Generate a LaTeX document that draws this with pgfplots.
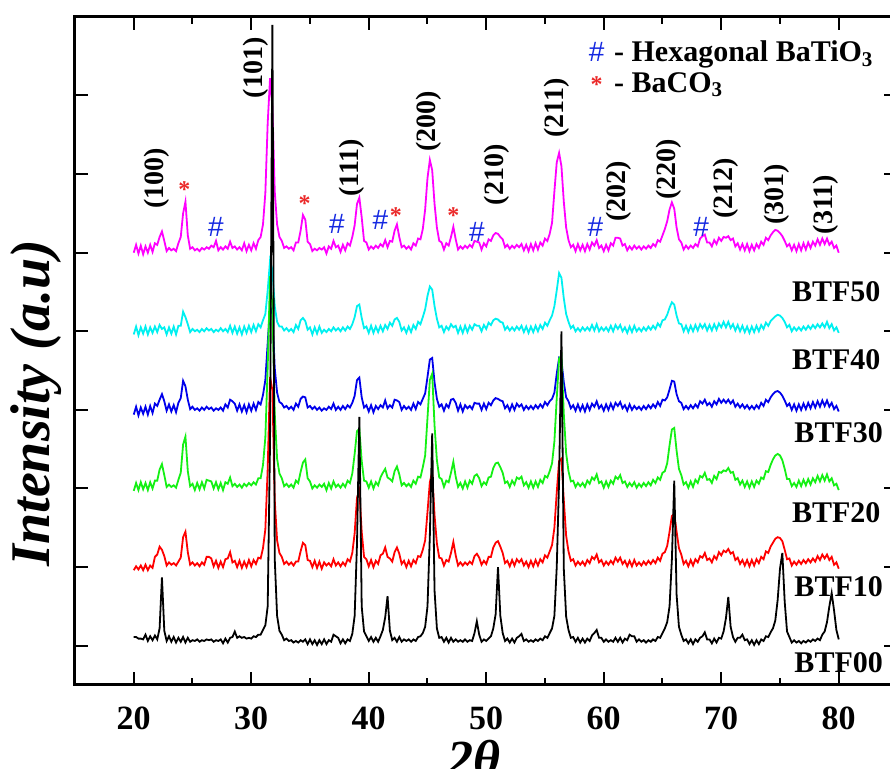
\documentclass[border=0pt]{standalone}
\usepackage{fontspec}
\setmainfont{Liberation Serif}
\newfontfamily\symfont{Liberation Sans}
\usepackage{pgfplots}
\usepackage{pgfplotstable}
\pgfplotsset{compat=1.18}

\definecolor{cMag}{RGB}{255,0,255}
\definecolor{cCyan}{RGB}{0,240,240}
\definecolor{cBlue}{RGB}{0,0,235}
\definecolor{cGreen}{RGB}{20,240,20}
\definecolor{cRed}{RGB}{255,0,0}
\definecolor{cAst}{RGB}{235,40,40}
\definecolor{cHash}{RGB}{20,40,225}

% 2theta, BTF00, BTF10, BTF20, BTF30, BTF40, BTF50 (stacked intensities)
\pgfplotstableread{
x k r g b c m
20.0 0.11 0.96 1.97 2.94 3.96 5.00
20.2 0.11 1.01 2.07 3.04 4.06 5.10
20.4 0.09 0.97 1.98 2.93 3.95 4.99
20.6 0.09 1.02 2.08 3.03 4.05 5.09
20.8 0.08 0.96 1.99 2.95 3.97 4.98
21.0 0.14 1.03 2.07 3.04 4.06 5.08
21.2 0.06 0.96 1.98 2.94 3.96 5.00
21.4 0.12 1.02 2.08 3.05 4.05 5.10
21.6 0.07 0.99 2.00 2.96 3.98 5.01
21.8 0.13 1.13 2.10 3.08 4.06 5.12
22.0 0.08 1.16 2.10 3.05 3.99 5.10
22.2 0.22 1.26 2.24 3.13 4.08 5.20
22.4 0.87 1.22 2.31 3.20 4.03 5.27
22.6 0.19 1.14 2.17 3.11 4.05 5.15
22.8 0.06 1.02 2.02 2.99 3.96 5.02
23.0 0.12 1.06 2.05 3.07 4.05 5.06
23.2 0.05 1.03 2.02 2.98 3.97 5.03
23.4 0.11 1.05 2.04 3.06 4.06 5.05
23.6 0.04 1.02 2.01 2.97 3.96 5.02
23.8 0.10 1.07 2.11 3.09 4.07 5.12
24.0 0.05 1.12 2.20 3.15 4.07 5.20
24.2 0.11 1.38 2.56 3.37 4.25 5.50
24.4 0.04 1.45 2.66 3.30 4.18 5.65
24.6 0.10 1.19 2.22 3.13 4.09 5.22
24.8 0.05 1.03 2.03 3.01 3.99 5.05
25.0 0.07 1.06 2.06 3.04 4.03 5.07
25.2 0.06 1.02 1.98 3.00 4.00 5.03
25.4 0.08 1.05 2.07 3.02 4.02 5.05
25.6 0.05 1.01 1.99 2.99 3.99 5.02
25.8 0.07 1.06 2.08 3.03 4.03 5.06
26.0 0.06 1.03 2.00 3.00 4.00 5.04
26.2 0.08 1.13 2.11 3.04 4.04 5.07
26.4 0.07 1.13 2.10 3.01 4.01 5.05
26.6 0.08 1.11 2.09 3.03 4.03 5.09
26.8 0.05 1.01 2.00 2.99 3.99 5.07
27.0 0.07 1.08 2.08 3.02 4.02 5.15
27.2 0.06 0.99 1.99 3.00 4.00 5.03
27.4 0.08 1.07 2.07 3.03 4.04 5.07
27.6 0.03 1.00 1.98 2.99 4.00 5.04
27.8 0.09 1.10 2.08 3.07 4.03 5.08
28.0 0.04 1.11 2.06 3.03 3.99 5.05
28.2 0.10 1.19 2.14 3.13 4.07 5.14
28.4 0.11 1.06 2.03 3.11 3.98 5.06
28.6 0.18 1.08 2.06 3.08 4.06 5.08
28.8 0.10 1.00 2.02 2.99 3.97 5.04
29.0 0.12 1.08 2.05 3.07 4.05 5.07
29.2 0.10 0.99 2.01 2.98 3.96 5.03
29.4 0.11 1.07 2.06 3.06 4.06 5.12
29.6 0.09 1.00 2.03 2.97 3.98 5.02
29.8 0.10 1.09 2.07 3.07 4.07 5.10
30.0 0.09 1.01 2.04 2.99 3.99 5.03
30.2 0.12 1.09 2.08 3.08 4.08 5.12
30.4 0.11 1.04 2.05 3.00 4.00 5.05
30.6 0.14 1.12 2.13 3.10 4.09 5.16
30.8 0.14 1.11 2.13 3.07 4.05 5.20
31.0 0.20 1.24 2.30 3.19 4.14 5.36
31.2 0.26 1.48 2.65 3.38 4.22 5.76
31.4 0.50 2.25 3.55 3.85 4.52 6.65
31.6 2.60 3.42 4.70 4.32 4.90 7.22
31.8 7.90 3.25 4.33 4.22 4.78 6.86
32.0 1.10 1.85 2.95 3.53 4.32 5.78
32.2 0.38 1.34 2.38 3.22 4.12 5.36
32.4 0.19 1.18 2.19 3.10 4.06 5.20
32.6 0.14 1.13 2.13 3.08 4.06 5.15
32.8 0.07 1.04 2.03 3.03 4.01 5.06
33.0 0.09 1.07 2.06 3.05 4.04 5.08
33.2 0.06 1.03 2.02 3.01 4.00 5.05
33.4 0.07 1.06 2.05 3.04 4.03 5.07
33.6 0.04 1.02 2.01 3.00 3.99 5.03
33.8 0.06 1.07 2.10 3.08 4.08 5.13
34.0 0.04 1.07 2.07 3.04 4.03 5.13
34.2 0.07 1.20 2.21 3.14 4.14 5.28
34.4 0.05 1.31 2.33 3.17 4.17 5.48
34.6 0.08 1.28 2.37 3.16 4.13 5.42
34.8 0.02 1.09 2.13 3.03 4.02 5.14
35.0 0.08 1.08 2.09 3.05 4.05 5.11
35.2 0.02 1.00 2.00 3.01 3.96 5.02
35.4 0.07 1.08 2.04 3.04 4.05 5.05
35.6 0.01 0.99 2.01 3.00 3.97 5.03
35.8 0.07 1.07 2.05 3.03 4.06 5.06
36.0 0.02 0.98 2.02 2.99 3.98 5.04
36.2 0.08 1.06 2.06 3.02 4.02 5.07
36.4 0.02 1.02 1.98 3.00 3.99 4.99
36.6 0.07 1.05 2.07 3.04 4.03 5.08
36.8 0.05 1.01 2.00 3.01 4.00 5.05
37.0 0.14 1.10 2.09 3.08 4.05 5.15
37.2 0.12 1.02 2.02 3.00 4.01 5.07
37.4 0.10 1.06 2.05 3.04 4.04 5.09
37.6 0.03 1.01 2.01 3.00 4.00 5.01
37.8 0.08 1.06 2.06 3.05 4.05 5.10
38.0 0.03 1.02 2.02 3.01 4.01 5.03
38.2 0.08 1.10 2.10 3.06 4.06 5.12
38.4 0.06 1.07 2.07 3.03 4.03 5.09
38.6 0.15 1.18 2.19 3.09 4.09 5.20
38.8 0.38 1.43 2.44 3.18 4.18 5.35
39.0 1.30 1.88 2.73 3.38 4.32 5.62
39.2 2.91 1.98 2.76 3.41 4.34 5.70
39.4 0.50 1.45 2.35 3.16 4.17 5.45
39.6 0.18 1.13 2.10 3.03 4.04 5.15
39.8 0.12 1.10 2.09 3.06 4.06 5.13
40.0 0.06 1.01 2.01 2.98 3.98 5.04
40.2 0.11 1.09 2.09 3.06 4.07 5.08
40.4 0.05 1.00 2.00 2.97 3.98 5.05
40.6 0.10 1.08 2.08 3.05 4.06 5.09
40.8 0.05 1.04 2.04 3.01 3.99 5.06
41.0 0.12 1.15 2.14 3.06 4.07 5.11
41.2 0.20 1.17 2.20 3.03 4.00 5.08
41.4 0.36 1.25 2.25 3.12 4.08 5.16
41.6 0.63 1.13 2.14 3.02 4.03 5.07
41.8 0.19 1.11 2.12 3.06 4.11 5.15
42.0 0.07 1.07 2.09 3.03 4.07 5.14
42.2 0.10 1.19 2.22 3.13 4.15 5.28
42.4 0.05 1.25 2.28 3.12 4.17 5.36
42.6 0.11 1.17 2.18 3.10 4.12 5.20
42.8 0.05 1.04 2.04 3.00 4.01 5.07
43.0 0.08 1.08 2.07 3.05 4.05 5.09
43.2 0.06 1.00 2.03 3.01 3.98 5.05
43.4 0.08 1.08 2.06 3.04 4.06 5.08
43.6 0.05 1.01 2.02 3.00 3.99 5.04
43.8 0.08 1.09 2.10 3.08 4.08 5.12
44.0 0.06 1.05 2.06 3.01 4.03 5.09
44.2 0.11 1.14 2.15 3.10 4.12 5.18
44.4 0.12 1.13 2.14 3.07 4.09 5.17
44.6 0.16 1.22 2.27 3.14 4.18 5.30
44.8 0.24 1.34 2.42 3.21 4.28 5.55
45.0 0.50 1.70 2.90 3.42 4.45 5.95
45.2 1.40 2.08 3.38 3.64 4.57 6.18
45.4 2.70 2.21 3.46 3.66 4.53 6.05
45.6 0.70 1.66 2.80 3.35 4.32 5.62
45.8 0.22 1.30 2.36 3.14 4.16 5.32
46.0 0.10 1.12 2.14 3.04 4.05 5.15
46.2 0.11 1.11 2.12 3.07 4.07 5.13
46.4 0.05 1.02 2.02 2.99 3.99 5.04
46.6 0.10 1.09 2.10 3.07 4.06 5.12
46.8 0.04 1.07 2.08 3.03 4.02 5.09
47.0 0.10 1.18 2.20 3.13 4.09 5.20
47.2 0.05 1.32 2.34 3.14 4.05 5.33
47.4 0.08 1.15 2.15 3.09 4.07 5.17
47.6 0.05 1.02 2.02 2.99 3.98 5.04
47.8 0.07 1.06 2.07 3.07 4.06 5.08
48.0 0.05 1.02 2.00 2.98 3.98 5.05
48.2 0.08 1.06 2.09 3.06 4.07 5.09
48.4 0.05 1.03 2.01 3.02 3.99 5.06
48.6 0.07 1.07 2.10 3.05 4.07 5.10
48.8 0.06 1.04 2.06 3.01 4.02 5.07
49.0 0.16 1.14 2.16 3.09 4.09 5.15
49.2 0.31 1.17 2.18 3.08 4.07 5.14
49.4 0.14 1.12 2.13 3.08 4.07 5.13
49.6 0.05 1.03 2.03 3.00 4.00 5.04
49.8 0.08 1.08 2.08 3.08 4.08 5.12
50.0 0.06 1.04 2.05 3.01 4.03 5.08
50.2 0.09 1.13 2.14 3.09 4.11 5.17
50.4 0.12 1.13 2.15 3.06 4.08 5.15
50.6 0.22 1.25 2.26 3.12 4.14 5.22
50.8 0.40 1.31 2.32 3.15 4.16 5.25
51.0 1.00 1.33 2.33 3.14 4.15 5.24
51.2 0.38 1.26 2.27 3.12 4.12 5.20
51.4 0.16 1.18 2.20 3.11 4.11 5.17
51.6 0.06 1.05 2.07 3.02 4.02 5.07
51.8 0.09 1.08 2.09 3.06 4.06 5.10
52.0 0.04 1.01 2.02 2.99 4.01 5.05
52.2 0.09 1.09 2.10 3.07 4.05 5.09
52.4 0.04 1.02 2.05 3.00 4.01 5.06
52.6 0.10 1.10 2.14 3.08 4.06 5.10
52.8 0.12 1.06 2.12 3.04 4.02 5.07
53.0 0.15 1.10 2.15 3.07 4.07 5.11
53.2 0.06 1.02 2.04 3.00 3.99 5.03
53.4 0.08 1.07 2.08 3.05 4.06 5.10
53.6 0.05 1.00 2.01 3.01 3.98 5.02
53.8 0.07 1.08 2.09 3.05 4.06 5.11
54.0 0.05 1.01 2.01 3.01 3.99 5.03
54.2 0.08 1.09 2.09 3.06 4.07 5.12
54.4 0.06 1.02 2.02 3.02 4.00 5.04
54.6 0.09 1.10 2.11 3.07 4.08 5.13
54.8 0.07 1.06 2.07 3.03 4.03 5.09
55.0 0.12 1.15 2.16 3.10 4.11 5.18
55.2 0.10 1.12 2.14 3.06 4.07 5.15
55.4 0.16 1.20 2.22 3.11 4.14 5.24
55.6 0.22 1.28 2.32 3.14 4.20 5.38
55.8 0.38 1.50 2.60 3.22 4.32 5.78
56.0 1.00 1.95 3.15 3.46 4.52 6.15
56.2 2.10 2.35 3.65 3.66 4.74 6.27
56.4 4.00 2.38 3.70 3.63 4.68 6.10
56.6 0.98 1.85 2.95 3.35 4.42 5.65
56.8 0.37 1.40 2.45 3.16 4.22 5.32
57.0 0.20 1.20 2.22 3.11 4.12 5.16
57.2 0.10 1.08 2.09 3.02 4.04 5.07
57.4 0.11 1.10 2.10 3.06 4.07 5.10
57.6 0.05 1.02 2.02 2.99 4.00 5.02
57.8 0.10 1.07 2.07 3.07 4.04 5.11
58.0 0.04 1.03 2.03 2.99 4.00 5.03
58.2 0.09 1.07 2.07 3.06 4.05 5.10
58.4 0.04 1.02 2.02 2.98 4.01 5.02
58.6 0.09 1.09 2.10 3.07 4.05 5.11
58.8 0.06 1.05 2.06 3.00 4.01 5.04
59.0 0.13 1.13 2.14 3.08 4.08 5.13
59.2 0.16 1.10 2.11 3.04 4.01 5.09
59.4 0.20 1.16 2.18 3.11 4.09 5.16
59.6 0.10 1.06 2.07 3.02 4.00 5.06
59.8 0.10 1.09 2.09 3.06 4.05 5.09
60.0 0.05 1.02 2.01 2.99 4.01 5.02
60.2 0.08 1.07 2.09 3.07 4.05 5.10
60.4 0.05 1.03 2.02 3.00 4.00 5.03
60.6 0.07 1.08 2.10 3.08 4.07 5.12
60.8 0.05 1.04 2.06 3.01 4.00 5.09
61.0 0.10 1.12 2.15 3.09 4.08 5.19
61.2 0.05 1.07 2.12 3.05 4.03 5.19
61.4 0.10 1.12 2.17 3.10 4.08 5.18
61.6 0.04 1.04 2.07 3.02 4.00 5.09
61.8 0.09 1.08 2.09 3.06 4.05 5.11
62.0 0.07 1.01 2.02 2.99 3.98 5.03
62.2 0.14 1.08 2.07 3.07 4.06 5.08
62.4 0.12 1.01 2.03 3.00 3.99 5.04
62.6 0.12 1.09 2.08 3.05 4.07 5.09
62.8 0.05 1.02 2.01 3.01 4.00 5.05
63.0 0.08 1.06 2.06 3.04 4.04 5.08
63.2 0.05 1.02 2.02 3.00 4.00 5.04
63.4 0.07 1.07 2.07 3.05 4.05 5.08
63.6 0.04 1.03 2.03 3.01 4.01 5.05
63.8 0.07 1.08 2.08 3.06 4.06 5.09
64.0 0.05 1.04 2.04 3.02 4.02 5.06
64.2 0.08 1.09 2.11 3.07 4.07 5.11
64.4 0.06 1.05 2.07 3.03 4.03 5.08
64.6 0.11 1.12 2.14 3.10 4.10 5.16
64.8 0.10 1.08 2.11 3.05 4.06 5.14
65.0 0.16 1.17 2.20 3.13 4.14 5.22
65.2 0.22 1.19 2.22 3.12 4.15 5.30
65.4 0.30 1.27 2.32 3.16 4.21 5.40
65.6 0.50 1.45 2.55 3.26 4.30 5.55
65.8 1.10 1.65 2.75 3.37 4.37 5.64
66.0 2.10 1.68 2.77 3.36 4.34 5.56
66.2 0.65 1.45 2.48 3.20 4.20 5.32
66.4 0.24 1.24 2.25 3.11 4.10 5.17
66.6 0.14 1.16 2.17 3.09 4.09 5.13
66.8 0.06 1.04 2.05 3.01 4.00 5.04
67.0 0.08 1.08 2.08 3.05 4.07 5.09
67.2 0.03 1.01 2.01 3.01 3.99 5.05
67.4 0.08 1.09 2.09 3.06 4.07 5.09
67.6 0.02 1.02 2.02 3.02 4.00 5.06
67.8 0.08 1.10 2.11 3.07 4.08 5.11
68.0 0.05 1.06 2.07 3.03 4.01 5.08
68.2 0.10 1.14 2.16 3.11 4.09 5.18
68.4 0.12 1.12 2.14 3.08 4.04 5.21
68.6 0.17 1.18 2.20 3.13 4.09 5.23
68.8 0.08 1.09 2.11 3.06 4.01 5.13
69.0 0.08 1.11 2.12 3.09 4.08 5.13
69.2 0.03 1.06 2.07 3.04 4.01 5.08
69.4 0.09 1.14 2.16 3.11 4.09 5.16
69.6 0.04 1.10 2.12 3.07 4.02 5.11
69.8 0.10 1.19 2.21 3.14 4.10 5.19
70.0 0.09 1.15 2.20 3.09 4.05 5.15
70.2 0.18 1.21 2.23 3.13 4.12 5.20
70.4 0.35 1.19 2.22 3.09 4.05 5.19
70.6 0.62 1.23 2.26 3.13 4.12 5.21
70.8 0.24 1.17 2.20 3.08 4.04 5.16
71.0 0.11 1.19 2.21 3.12 4.09 5.18
71.2 0.05 1.09 2.11 3.04 4.01 5.08
71.4 0.10 1.12 2.13 3.08 4.08 5.12
71.6 0.10 1.04 2.05 3.03 4.00 5.04
71.8 0.14 1.09 2.10 3.07 4.07 5.11
72.0 0.07 1.02 2.02 3.02 3.99 5.03
72.2 0.08 1.09 2.09 3.06 4.06 5.11
72.4 0.02 1.01 2.01 3.01 3.98 5.02
72.6 0.07 1.09 2.09 3.05 4.06 5.10
72.8 0.01 1.02 2.02 3.01 3.99 5.03
73.0 0.07 1.10 2.10 3.06 4.07 5.11
73.2 0.02 1.05 2.06 3.02 4.00 5.06
73.4 0.08 1.13 2.14 3.09 4.08 5.14
73.6 0.06 1.10 2.12 3.05 4.03 5.10
73.8 0.12 1.20 2.22 3.13 4.11 5.19
74.0 0.11 1.18 2.21 3.10 4.07 5.16
74.2 0.17 1.26 2.30 3.16 4.13 5.22
74.4 0.22 1.31 2.37 3.20 4.16 5.26
74.6 0.32 1.36 2.42 3.23 4.19 5.29
74.8 0.58 1.38 2.44 3.24 4.21 5.28
75.0 0.98 1.37 2.42 3.22 4.20 5.25
75.2 1.18 1.33 2.36 3.18 4.17 5.21
75.4 0.56 1.22 2.25 3.12 4.12 5.15
75.6 0.18 1.10 2.12 3.05 4.05 5.08
75.8 0.11 1.11 2.12 3.08 4.08 5.11
76.0 0.04 1.02 2.03 3.00 4.00 5.03
76.2 0.07 1.07 2.07 3.07 4.05 5.10
76.4 0.04 1.03 2.02 2.99 4.01 5.02
76.6 0.06 1.08 2.10 3.07 4.05 5.11
76.8 0.03 1.04 2.03 3.00 4.01 5.03
77.0 0.06 1.09 2.11 3.08 4.06 5.12
77.2 0.04 1.05 2.04 3.01 4.02 5.04
77.4 0.07 1.10 2.12 3.09 4.07 5.13
77.6 0.05 1.06 2.05 3.02 4.03 5.06
77.8 0.08 1.11 2.13 3.10 4.08 5.14
78.0 0.06 1.07 2.08 3.03 4.04 5.09
78.2 0.09 1.14 2.16 3.11 4.09 5.17
78.4 0.07 1.09 2.09 3.04 4.05 5.10
78.6 0.14 1.16 2.17 3.12 4.10 5.18
78.8 0.18 1.11 2.10 3.05 4.05 5.11
79.0 0.30 1.16 2.18 3.12 4.12 5.18
79.2 0.50 1.09 2.09 3.04 4.04 5.10
79.4 0.67 1.13 2.13 3.09 4.09 5.14
79.6 0.45 1.03 2.04 3.01 4.01 5.06
79.8 0.20 1.06 2.06 3.05 4.05 5.09
80.0 0.08 0.98 1.98 2.98 3.98 5.00
}\xrd

\begin{document}
\begin{tikzpicture}
% the reference is a cropped figure: keep only that window
\useasboundingbox (-37.5pt,-42pt) rectangle (407.5pt,342.5pt);
\clip (-37.5pt,-42pt) rectangle (407.5pt,342.5pt);
\begin{axis}[
  at={(0,0)}, anchor=south west,
  scale only axis, width=411.25pt, height=334.05pt,
  xmin=15, xmax=85, ymin=-0.5, ymax=8,
  clip=false,
  axis line style={line width=1.5pt},
  tick style={line width=1pt, black},
  tick align=inside,
  major tick length=6.5pt, minor tick length=3.5pt,
  xtick={20,30,...,80}, minor xtick={25,35,...,75},
  ytick={0,...,7}, yticklabels={},
  /pgf/number format/assume math mode=true,
  xticklabel style={font=\fontsize{17}{20}\selectfont\bfseries, anchor=base, yshift=-22.5pt},
  xlabel={\bfseries\itshape 2θ},
  xlabel style={font=\fontsize{26}{30}\selectfont, at={(rel axis cs:0.485,-0.137)}, anchor=base},
  ylabel={\bfseries\itshape Intensity (a.u)},
  ylabel style={font=\fontsize{28}{32}\selectfont, at={(rel axis cs:-0.0304,0.422)}, anchor=base},
  every axis plot/.append style={line width=0.9pt},
]
\addplot[cMag] table[x=x,y=m] {\xrd};
\addplot[cCyan] table[x=x,y=c] {\xrd};
\addplot[cBlue] table[x=x,y=b] {\xrd};
\addplot[cGreen] table[x=x,y=g] {\xrd};
\addplot[cRed] table[x=x,y=r] {\xrd};
\addplot[black] table[x=x,y=k] {\xrd};

% sample names
\begin{scope}[every node/.style={anchor=west, inner sep=0pt, font=\fontsize{15}{18}\selectfont\bfseries}]
\node at (axis cs:76.0,4.50) {BTF50};
\node at (axis cs:76.0,3.64) {BTF40};
\node at (axis cs:76.2,2.71) {BTF30};
\node at (axis cs:76.0,1.69) {BTF20};
\node at (axis cs:76.2,0.75) {BTF10};
\node at (axis cs:76.2,-0.22) {BTF00};
\end{scope}

% Miller indices
\begin{scope}[every node/.style={rotate=90, inner sep=0pt, font=\fontsize{14}{16}\selectfont\bfseries}]
\node at (axis cs:21.96,5.95) {(100)};
\node at (axis cs:30.4,7.35) {(101)};
\node at (axis cs:38.55,6.08) {(111)};
\node at (axis cs:45.1,6.67) {(200)};
\node at (axis cs:50.9,5.99) {(210)};
\node at (axis cs:56.0,6.84) {(211)};
\node at (axis cs:61.3,5.78) {(202)};
\node at (axis cs:65.5,6.06) {(220)};
\node at (axis cs:70.4,5.82) {(212)};
\node at (axis cs:74.7,5.74) {(301)};
\node at (axis cs:78.9,5.61) {(311)};
\end{scope}

% phase markers
\begin{scope}[every node/.style={inner sep=0pt, text=cAst, font=\fontsize{12}{14}\selectfont\bfseries}]
\node at (axis cs:24.3,5.80) {*};
\node at (axis cs:34.55,5.63) {*};
\node at (axis cs:42.3,5.47) {*};
\node at (axis cs:47.2,5.47) {*};
\node at (axis cs:59.4,7.14) {*};
\end{scope}
\begin{scope}[every node/.style={inner sep=0pt, text=cHash, font=\symfont\fontsize{14}{16}\selectfont}]
\node at (axis cs:27.0,5.33) {\#};
\node at (axis cs:37.3,5.36) {\#};
\node at (axis cs:41.0,5.42) {\#};
\node at (axis cs:49.2,5.27) {\#};
\node at (axis cs:59.3,5.33) {\#};
\node at (axis cs:68.3,5.33) {\#};
\node at (axis cs:59.4,7.56) {\#};
\end{scope}

% key
\node[anchor=base west, inner sep=0pt, font=\fontsize{15}{18}\selectfont\bfseries]
  at (axis cs:60.85,7.43) {- Hexagonal BaTiO\textsubscript{3}};
\node[anchor=base west, inner sep=0pt, font=\fontsize{15}{18}\selectfont\bfseries]
  at (axis cs:60.85,7.04) {- BaCO\textsubscript{3}};
\end{axis}
\end{tikzpicture}
\end{document}
